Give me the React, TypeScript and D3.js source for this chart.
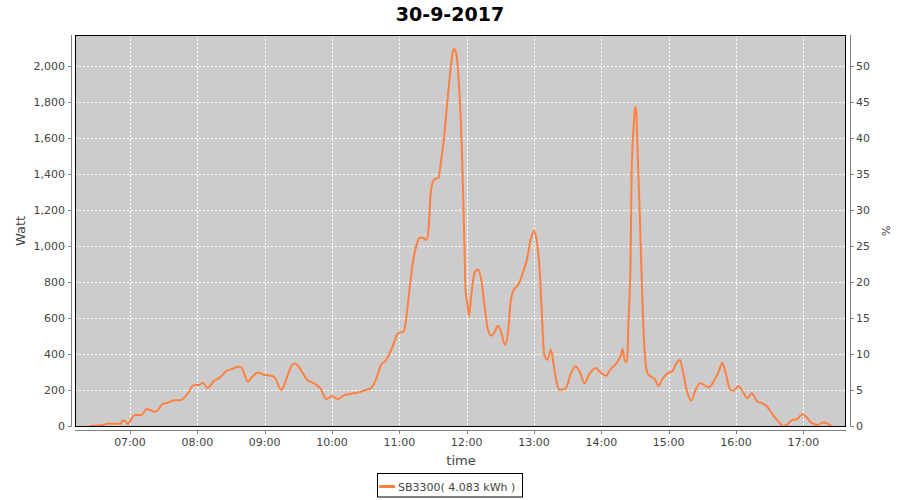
import React from "react";
import * as d3 from "d3";

const TITLE = "30-9-2017";
const SERIES_NAME = "SB3300( 4.083 kWh )";
const X_LABEL = "time";
const Y_LABEL = "Watt";
const Y2_LABEL = "%";

const times: string[] = [
  "06:24","06:37","06:39","06:52","06:53","06:55","06:58","07:04","07:10","07:15",
  "07:19","07:23","07:29","07:34","07:40","07:45","07:49","07:53","07:56","08:02",
  "08:05","08:09","08:15","08:20","08:26","08:31","08:36","08:39","08:41","08:45",
  "08:49","08:54","09:00","09:06","09:09","09:15","09:18","09:22","09:26","09:29",
  "09:34","09:38","09:44","09:50","09:55","10:00","10:05","10:11","10:17","10:23",
  "10:29","10:35","10:39","10:44","10:48","10:51","10:54","10:56","10:59","11:04",
  "11:06","11:09","11:12","11:15","11:18","11:21","11:24","11:26","11:28","11:31",
  "11:35","11:37","11:40","11:43","11:46","11:48","11:49","11:51","11:53","11:56",
  "11:58","11:59","12:01","12:02","12:04","12:07","12:10","12:13","12:16","12:19",
  "12:22","12:25","12:28","12:31","12:34","12:37","12:39","12:42","12:46","12:50",
  "12:54","12:57","13:00","13:02","13:05","13:07","13:09","13:12","13:15","13:18",
  "13:20","13:23","13:28","13:33","13:37","13:41","13:45","13:49","13:55","13:59",
  "14:04","14:08","14:14","14:17","14:19","14:21","14:23","14:24","14:26","14:27",
  "14:29","14:30","14:31","14:32","14:34","14:36","14:38","14:41","14:44","14:48",
  "14:51","14:54","14:59","15:03","15:07","15:10","15:13","15:16","15:20","15:24",
  "15:28","15:33","15:36","15:40","15:44","15:48","15:50","15:55","15:58","16:02",
  "16:06","16:10","16:14","16:19","16:23","16:27","16:33","16:38","16:42","16:45",
  "16:50","16:54","16:59","17:03","17:07","17:13","17:18","17:22","17:25"
];

const watts: number[] = [
  0,5,13,13,28,30,11,61,61,95,
  85,80,122,131,143,143,163,195,226,230,
  241,211,252,269,306,317,330,326,305,246,
  274,297,284,280,269,200,237,308,347,340,
  293,256,237,206,150,167,150,172,180,185,
  198,212,256,344,365,400,442,478,517,526,
  591,758,907,1000,1047,1047,1034,1093,1298,1372,
  1381,1465,1614,1818,2004,2088,2097,2060,1911,1483,
  1000,758,666,610,721,851,870,814,666,535,
  502,526,558,517,452,526,684,758,786,851,
  935,1037,1085,1045,870,628,400,368,426,320,
  248,201,207,294,333,298,238,285,322,300,
  279,313,354,387,428,359,359,555,908,1411,
  1690,1774,1755,1578,1225,815,480,294,275,257,
  223,257,294,303,350,368,294,201,141,201,
  238,223,216,248,294,350,313,201,197,223,
  192,154,182,136,127,112,61,24,0,6,
  33,37,65,48,19,6,19,11,0
];

const yTicks: number[] = [0,200,400,600,800,1000,1200,1400,1600,1800,2000];
const y2Ticks: number[] = [0,5,10,15,20,25,30,35,40,45,50];
const xTickHours: number[] = [7,8,9,10,11,12,13,14,15,16,17];

const toDate = (hh: number, mm: number) => new Date(2017, 8, 30, hh, mm, 0);
const parseT = (s: string) => {
  const [h, m] = s.split(":").map(Number);
  return toDate(h, m);
};

export default function App() {
  const W = 900, H = 500;
  const left = 75, right = 846, top = 35, bottom = 426;
  const font = "'DejaVu Sans', sans-serif";
  const orange = "#ff8040";

  const x = d3.scaleTime()
    .domain([toDate(6, 11.9), toDate(17, 38.3)])
    .range([left, right]);
  const y = d3.scaleLinear().domain([0, 2175]).range([bottom, top]);
  const y2 = d3.scaleLinear().domain([0, 2175 / 40]).range([bottom, top]);

  const data = times.map((t, i) => ({ t: parseT(t), v: watts[i] }));
  const line = d3.line<{ t: Date; v: number }>()
    .x(d => x(d.t))
    .y(d => y(d.v))
    .curve(d3.curveMonotoneX);

  const fmt = d3.timeFormat("%H:%M");
  const xTicks = xTickHours.map(h => toDate(h, 0));
  const yFmt = d3.format(",");

  const axisColor = "#808080";
  const textColor = "#444444";

  return (
    <svg width={W} height={H} style={{ position: "absolute", left: 0, top: 0, background: "#fff" }}
      fontFamily={font}>
      <rect x={0} y={0} width={W} height={H} fill="#ffffff" />
      <text x={450} y={21} textAnchor="middle" fontSize={19} fontWeight="bold" fill="#000">{TITLE}</text>

      {/* plot background */}
      <rect x={left} y={top} width={right - left} height={bottom - top} fill="#cccccc" />

      {/* gridlines */}
      {xTicks.map((d, i) => (
        <line key={"gx" + i} x1={Math.round(x(d)) + 0.5} x2={Math.round(x(d)) + 0.5} y1={top} y2={bottom}
          stroke="#ffffff" strokeWidth={1} strokeDasharray="2,2" />
      ))}
      {yTicks.map((v, i) => (
        <line key={"gy" + i} x1={left} x2={right} y1={Math.round(y(v)) + 0.5} y2={Math.round(y(v)) + 0.5}
          stroke="#ffffff" strokeWidth={1} strokeDasharray="2,2" />
      ))}

      {/* series */}
      <path d={line(data) || ""} fill="none" stroke={orange} strokeWidth={2} strokeLinejoin="round" />

      {/* plot outline */}
      <rect x={left + 0.5} y={top + 0.5} width={right - left - 1} height={bottom - top} fill="none" stroke="#000" strokeWidth={1} />

      {/* left axis */}
      <line x1={71.5} x2={71.5} y1={top} y2={bottom + 0.5} stroke={axisColor} />
      {yTicks.map((v, i) => (
        <g key={"yt" + i}>
          <line x1={68} x2={71} y1={Math.round(y(v)) + 0.5} y2={Math.round(y(v)) + 0.5} stroke={axisColor} />
          <text x={65} y={y(v) + 4} textAnchor="end" fontSize={11} fill={textColor}>{yFmt(v)}</text>
        </g>
      ))}
      <text transform={`translate(25,231) rotate(-90)`} textAnchor="middle" fontSize={13} fill={textColor}>{Y_LABEL}</text>

      {/* right axis */}
      <line x1={850.5} x2={850.5} y1={top} y2={bottom + 0.5} stroke={axisColor} />
      {y2Ticks.map((v, i) => (
        <g key={"y2t" + i}>
          <line x1={851} x2={854} y1={Math.round(y2(v)) + 0.5} y2={Math.round(y2(v)) + 0.5} stroke={axisColor} />
          <text x={856} y={y2(v) + 4} textAnchor="start" fontSize={11} fill={textColor}>{v}</text>
        </g>
      ))}
      <text transform={`translate(882,231) rotate(90)`} textAnchor="middle" fontSize={11} fill={textColor}>{Y2_LABEL}</text>

      {/* bottom axis */}
      <line x1={left} x2={right} y1={430.5} y2={430.5} stroke={axisColor} />
      {xTicks.map((d, i) => (
        <g key={"xt" + i}>
          <line x1={Math.round(x(d)) + 0.5} x2={Math.round(x(d)) + 0.5} y1={431} y2={434} stroke={axisColor} />
          <text x={x(d)} y={446} textAnchor="middle" fontSize={11} fill={textColor}>{fmt(d)}</text>
        </g>
      ))}
      <text x={461} y={465} textAnchor="middle" fontSize={13} fill={textColor}>{X_LABEL}</text>

      {/* legend */}
      <rect x={377.5} y={473.5} width={145} height={23.5} fill="#fff" stroke="#000" strokeWidth={1} />
      <line x1={379} x2={395} y1={486.5} y2={486.5} stroke={orange} strokeWidth={3} />
      <text x={398} y={490.5} fontSize={11} fill={textColor}>{SERIES_NAME}</text>
    </svg>
  );
}
